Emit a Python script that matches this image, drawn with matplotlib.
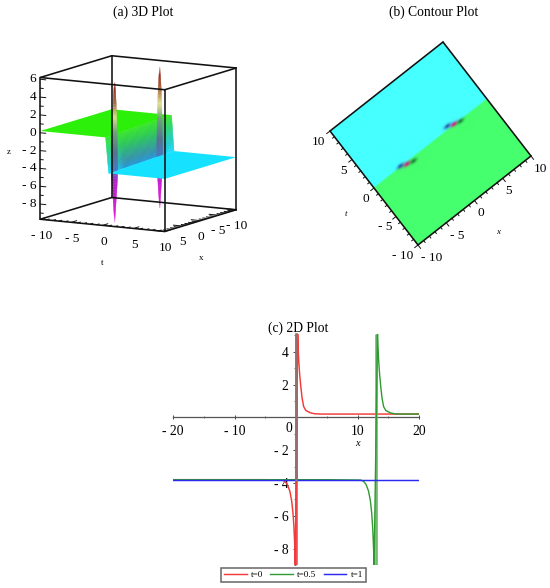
import numpy as np
import matplotlib
matplotlib.use("Agg")
import matplotlib.pyplot as plt
from matplotlib.collections import PolyCollection
from matplotlib.transforms import Affine2D
from matplotlib.ticker import FixedLocator, FixedFormatter

plt.rcParams['font.family'] = ['Liberation Serif', 'DejaVu Serif']

# ---------- data ----------
green_level = 0.2
cyan_level = -3.8
step_front = [0.5, 1.0]     # t of wall top / bottom at x = 10
step_back = [-0.4, 0.0]     # t of wall top / bottom at x = -10
spike_x_3d = [6.6, -6.0]
spike_top = [5.9, 6.1]
spike_bottom = [-9.8, -9.7]
spike_z_levels = [6.2, 5.2, 3.6, 2.0, 0.3, -2.0, -4.0, -5.0, -9.0, -9.8]
spike_widths = [0.04, 0.12, 0.25, 0.32, 0.4, 0.45, 0.5, 0.45, 0.09, 0.04]
spike_colors = ['#f0c8c8', '#982818', '#a86a40', '#e0e090', '#70a080',
                '#587090', '#4878c0', '#b020c8', '#e010d8', '#f0b8f0']
wall_z = [0.2, -1.0, -2.0, -3.0, -3.8]
wall_colors_inner = ['#38e828', '#2ccc50', '#2cb080', '#3494a8', '#2098d8']
wall_colors_outer = ['#38e828', '#2cd870', '#28d0a8', '#20d0d8', '#18e0ff']

blob_x = [-4.33, 4.24]
blob_t = [-0.22, 0.10]
blob_dx = [-0.885, 0.0, 0.97]
blob_dt = [0.34, 0.0, -0.23]
blob_rgb = [(40, 90, 170), (215, 30, 130), (30, 130, 60)]

axis_ticks_3d = [-10, -5, 0, 5, 10]
z_ticks_3d = [6, 4, 2, 0, -2, -4, -6, -8]

xc_ticks = [-20, -10, 10, 20]
xc_labels = ['- 20', '- 10', '10', '20']
yc_ticks = [-8, -6, -4, -2, 2, 4]
yc_labels = ['- 8', '- 6', '- 4', '- 2', '2', '4']

red_x = [-20, -5, -2.3, -1.8, -1.4, -1.0, -0.7, -0.5, -0.35, -0.25, -0.17, -0.12,
         0.27, 0.35, 0.45, 0.6, 0.8, 1.0, 1.25, 1.6, 2.3, 3, 4, 8, 20]
red_y = [-3.8, -3.8, -3.82, -3.9, -4.1, -4.5, -5.1, -5.8, -6.6, -7.4, -8.2, -9.0,
         5.08, 4.2, 3.4, 2.6, 1.8, 1.15, 0.65, 0.42, 0.28, 0.22, 0.2, 0.2, 0.2]
green_x = [-20, 5, 10.5, 11.0, 11.4, 11.8, 12.1, 12.3, 12.45, 12.55, 12.63, 12.7,
           13.25, 13.35, 13.45, 13.6, 13.8, 14.0, 14.25, 14.6, 15.3, 16, 17, 20]
green_y = [-3.8, -3.8, -3.82, -3.9, -4.1, -4.5, -5.1, -5.8, -6.6, -7.4, -8.2, -9.0,
           5.08, 4.2, 3.4, 2.6, 1.8, 1.15, 0.65, 0.42, 0.28, 0.22, 0.2, 0.2]
blue_x = [-20, 20]
blue_y = [-3.8, -3.8]
green_pole = 13.02
red_pole = 0.05

# ---------- figure ----------
fig = plt.figure(figsize=(5.5, 5.88), dpi=100, facecolor='white')
ax = fig.add_axes([0, 0, 1, 1])
ax.set_xlim(0, 550)
ax.set_ylim(588, 0)
ax.axis('off')

TXT = '#000000'
ax.text(143, 12, '(a) 3D Plot', ha='center', va='center', fontsize=9.8, color=TXT)
ax.text(434, 12, '(b) Contour Plot', ha='center', va='center', fontsize=9.8, color=TXT)

# ---------- (a) projected 3-D box ----------
corners = np.array([(t, x, z) for t, x, z in [
    (-10, 10, 6.2), (10, 10, 6.2), (10, -10, 6.2), (-10, -10, 6.2),
    (-10, 10, -9.7), (10, 10, -9.7), (10, -10, -9.7), (-10, -10, -9.7)]], float)
pix = np.array([(40, 78), (165, 89), (236, 68), (112, 56),
                (40, 219), (165, 232), (236, 210), (112, 197)], float)
A, *_ = np.linalg.lstsq(np.c_[corners, np.ones(8)], pix, rcond=None)


def proj(t, x, z):
    return np.c_[np.atleast_1d(t), np.atleast_1d(x), np.atleast_1d(z), np.ones(np.size(t))] @ A


def hexrgb(c):
    return np.array(matplotlib.colors.to_rgb(c))


def box_line(p, q, z=20, lw=1.15):
    a, b = proj(*p)[0], proj(*q)[0]
    ax.plot([a[0], b[0]], [a[1], b[1]], color='#111111', lw=lw, zorder=z, solid_capstyle='round')


# planes
ax.add_patch(plt.Polygon(proj([-10, step_front[0], step_back[0], -10], [10, 10, -10, -10], [green_level] * 4),
                         fc='#2cf00a', ec='none', zorder=3))

# wall


def wall_t(x, z):
    w = (10 - x) / 20.0
    s = (green_level - z) / (green_level - cyan_level)
    top = step_front[0] * (1 - w) + step_back[0] * w
    bot = step_front[1] * (1 - w) + step_back[1] * w
    return top * (1 - s) + bot * s


xs = np.linspace(10, -10, 61)
zs = np.linspace(green_level, cyan_level, 30)
polys, cols = [], []
wi = np.array([hexrgb(c) for c in wall_colors_inner])
wo = np.array([hexrgb(c) for c in wall_colors_outer])
for i in range(len(xs) - 1):
    xm = 0.5 * (xs[i] + xs[i + 1])
    mix = np.clip((abs(xm) - 5.0) / 3.5, 0, 1)
    for j in range(len(zs) - 1):
        zm = 0.5 * (zs[j] + zs[j + 1])
        polys.append(proj([wall_t(xs[i], zs[j]), wall_t(xs[i + 1], zs[j]),
                           wall_t(xs[i + 1], zs[j + 1]), wall_t(xs[i], zs[j + 1])],
                          [xs[i], xs[i + 1], xs[i + 1], xs[i]],
                          [zs[j], zs[j], zs[j + 1], zs[j + 1]]))
        c = [np.interp(-zm, -np.array(wall_z), (1 - mix) * wi[:, k] + mix * wo[:, k]) for k in range(3)]
        cols.append(c)
ax.add_collection(PolyCollection(polys, facecolors=cols, edgecolors=cols, linewidths=0.3, zorder=4))

# spikes
zgrid = np.array(spike_z_levels)
rgb = np.array([hexrgb(c) for c in spike_colors])
for sx, top, bot in zip(spike_x_3d, spike_top, spike_bottom):
    lev = np.linspace(top, bot, 90)
    polys, cols = [], []
    for a, b in zip(lev[:-1], lev[1:]):
        wa = np.interp(-a, -zgrid, spike_widths)
        wb = np.interp(-b, -zgrid, spike_widths)
        polys.append(proj([-wa, wa, wb, -wb], [sx] * 4, [a, a, b, b]))
        m = 0.5 * (a + b)
        cols.append([np.interp(-m, -zgrid, rgb[:, k]) for k in range(3)])
    ax.add_collection(PolyCollection(polys, facecolors=cols, edgecolors=cols, linewidths=0.25, zorder=5))

ax.add_patch(plt.Polygon(proj([step_front[1], 10, 10, step_back[1]], [10, 10, -10, -10], [cyan_level] * 4),
                         fc='#16e2ff', ec='none', zorder=6))

# box
zt, zb = 6.2, -9.7
for p, q in [((-10, 10, zt), (10, 10, zt)), ((10, 10, zt), (10, -10, zt)), ((10, -10, zt), (-10, -10, zt)),
             ((-10, -10, zt), (-10, 10, zt)), ((-10, 10, zb), (10, 10, zb)), ((10, 10, zb), (10, -10, zb)),
             ((10, -10, zb), (-10, -10, zb)), ((-10, -10, zb), (-10, 10, zb)),
             ((-10, 10, zb), (-10, 10, zt)), ((10, 10, zb), (10, 10, zt)),
             ((10, -10, zb), (10, -10, zt)), ((-10, -10, zb), (-10, -10, zt))]:
    box_line(p, q)

for v in range(-10, 11):
    ln = 1.5 if v % 5 == 0 else 0.8
    box_line((v, 10, zb), (v, 10 - ln, zb), lw=0.7)
    box_line((10, v, zb), (10 - ln, v, zb), lw=0.7)
for v in range(-9, 7):
    ln = 0.9 if v % 2 == 0 else 0.5
    box_line((-10, 10, v), (-10 + ln, 10, v), lw=0.7)

for v in axis_ticks_3d:
    s = ('- %d' % -v) if v < 0 else str(v)
    px = proj(v, 10, zb)[0]
    ax.text(px[0] + 1, px[1] + 17, s, ha='center', va='center', fontsize=9.6, color=TXT)
    if v < 10:
        px = proj(10, v, zb)[0]
        ax.text(px[0], px[1] + 16, s, ha='center', va='center', fontsize=9.6, color=TXT)
for v in z_ticks_3d:
    s = ('- %d' % -v) if v < 0 else str(v)
    px = proj(-10, 10, v)[0]
    ax.text(px[0] - 4, px[1], s, ha='right', va='center', fontsize=9.6, color=TXT)
ax.text(102, 263, 't', ha='center', va='center', fontsize=6.5, color=TXT)
ax.text(201, 258, 'x', ha='center', va='center', fontsize=6.5, color=TXT)
ax.text(9, 152, 'z', ha='center', va='center', fontsize=6.5, color=TXT)

# ---------- (b) contour panel, rotated map of (x, t) ----------
P0 = np.array([418.0, 245.0])
ex = (np.array([531.0, 156.0]) - P0) / 20.0
et = (np.array([330.0, 131.0]) - P0) / 20.0
M = np.array([[ex[0], et[0], P0[0] + 10 * ex[0] + 10 * et[0]],
              [ex[1], et[1], P0[1] + 10 * ex[1] + 10 * et[1]],
              [0, 0, 1]])
to_pix = Affine2D(M) + ax.transData

gx = np.linspace(-10, 10, 500)
gt = np.linspace(-10, 10, 500)
GX, GT = np.meshgrid(gx, gt)
frac = np.clip((GT - 0.05 + 0.12) / 0.24, 0, 1)[..., None]
base_g = np.array([70, 255, 110]) / 255
base_c = np.array([70, 255, 255]) / 255
img = base_g * (1 - frac) + base_c * frac
for bx, bt in zip(blob_x, blob_t):
    for dx, dt, col in zip(blob_dx, blob_dt, blob_rgb):
        w = np.exp(-(((GX - bx - dx) / 0.55) ** 2 + ((GT - bt - dt) / 0.27) ** 2))[..., None]
        img = img * (1 - w) + np.array(col) / 255 * w
im = ax.imshow(img, extent=(-10, 10, -10, 10), origin='lower', transform=to_pix,
               interpolation='bilinear', zorder=2, aspect='auto')
clip = plt.Polygon([(-10, -10), (10, -10), (10, 10), (-10, 10)], transform=to_pix, fc='none', ec='none')
ax.add_patch(clip)
im.set_clip_path(clip)
ax.set_xlim(0, 550)
ax.set_ylim(588, 0)


def seg_b(p, q, lw=1.15):
    a = M[:2, :2] @ np.array(p) + M[:2, 2]
    b = M[:2, :2] @ np.array(q) + M[:2, 2]
    ax.plot([a[0], b[0]], [a[1], b[1]], color='#111111', lw=lw, zorder=8, solid_capstyle='round')


for p, q in [((-10, -10), (10, -10)), ((10, -10), (10, 10)), ((10, 10), (-10, 10)), ((-10, 10), (-10, -10))]:
    seg_b(p, q)
for v in range(-10, 11):
    ln = 0.6 if v % 5 == 0 else 0.35
    seg_b((-10, v), (-10 - ln, v), lw=0.7)
    seg_b((v, -10), (v, -10 - ln), lw=0.7)
t_label_dx = [-15, -11, -8, -8, -12]
x_label_dx = [14, 11, 6.5, 6, 9.5]
for v, tdx, xdx in zip(axis_ticks_3d, t_label_dx, x_label_dx):
    s = ('- %d' % -v) if v < 0 else str(v)
    a = M[:2, :2] @ np.array([-10, v]) + M[:2, 2]
    ax.text(a[0] + tdx, a[1] + 11, s, ha='center', va='center', fontsize=9.6, color=TXT)
    b = M[:2, :2] @ np.array([v, -10]) + M[:2, 2]
    ax.text(b[0] + xdx, b[1] + 13, s, ha='center', va='center', fontsize=9.6, color=TXT)
ax.text(346, 214, 't', ha='center', va='center', fontsize=6.5, style='italic', color=TXT)
ax.text(498, 232, 'x', ha='center', va='center', fontsize=6.5, style='italic', color=TXT)

# ---------- (c) 2-D plot ----------
cax = fig.add_axes([173 / 550, (588 - 565) / 588, 246 / 550, 231 / 588])
cax.set_xlim(-20, 20)
cax.set_ylim(-9.0, 5.08)
cax.patch.set_alpha(0)
for s in ('top', 'right'):
    cax.spines[s].set_visible(False)
cax.spines['left'].set_position(('data', 0))
cax.spines['bottom'].set_position(('data', 0))
cax.spines['left'].set_color('#94706c')
cax.spines['left'].set_linewidth(1.9)
cax.spines['left'].set_bounds(-3.8, 5.08)
cax.spines['left'].set_zorder(6)
cax.spines['bottom'].set_color('#555555')
cax.spines['bottom'].set_linewidth(0.9)
cax.xaxis.set_major_locator(FixedLocator(xc_ticks))
cax.xaxis.set_major_formatter(FixedFormatter(xc_labels))
cax.xaxis.set_minor_locator(FixedLocator([-15, -5, 5, 15]))
cax.yaxis.set_major_locator(FixedLocator(yc_ticks))
cax.yaxis.set_major_formatter(FixedFormatter(yc_labels))
cax.yaxis.set_minor_locator(FixedLocator([-9, -7, -5, -3, -1, 1, 3, 5]))
cax.tick_params(axis='both', which='major', labelsize=9.8, labelcolor=TXT, length=2.5, width=0.7,
                color='#444444', direction='out', pad=3)
cax.tick_params(axis='both', which='minor', length=1.5, width=0.6, color='#555555', direction='out')
cax.tick_params(axis='x', which='both', direction='inout', pad=4.5)

cax.plot([red_pole, red_pole], [-9.0, 5.08], color='#f0505a', lw=1.9, zorder=2.5, solid_capstyle='butt')
cax.plot(red_x, red_y, color='#f23a3a', lw=1.05, label='t=0', zorder=3)
cax.plot([green_pole, green_pole], [-9.0, 5.08], color='#6fb86f', lw=1.9, zorder=3, solid_capstyle='butt')
cax.plot(green_x, green_y, color='#2f9a2f', lw=1.0, label='t=0.5', zorder=3)
cax.plot(blue_x, blue_y, color='#2a2af0', lw=1.05, label='t=1', zorder=4)

ax.text(298, 328, '(c) 2D Plot', ha='center', va='center', fontsize=9.8, color=TXT, zorder=30)
ax.text(357, 444, 'x', ha='center', va='center', fontsize=7.5, style='italic', color=TXT)
ax.text(289, 429, '0', ha='center', va='center', fontsize=9.8, color=TXT)

leg = cax.legend(loc='center', bbox_to_anchor=(293.5 / 550, (588 - 575) / 588), bbox_transform=fig.transFigure,
                 ncol=3, fontsize=6.6, frameon=True, fancybox=False, edgecolor='#666666', framealpha=1,
                 handlelength=2.5, columnspacing=0.75, handletextpad=0.45, borderpad=0.35, borderaxespad=0)
leg.get_frame().set_linewidth(1.1)

fig.savefig('out.png', dpi=100, facecolor='white')
